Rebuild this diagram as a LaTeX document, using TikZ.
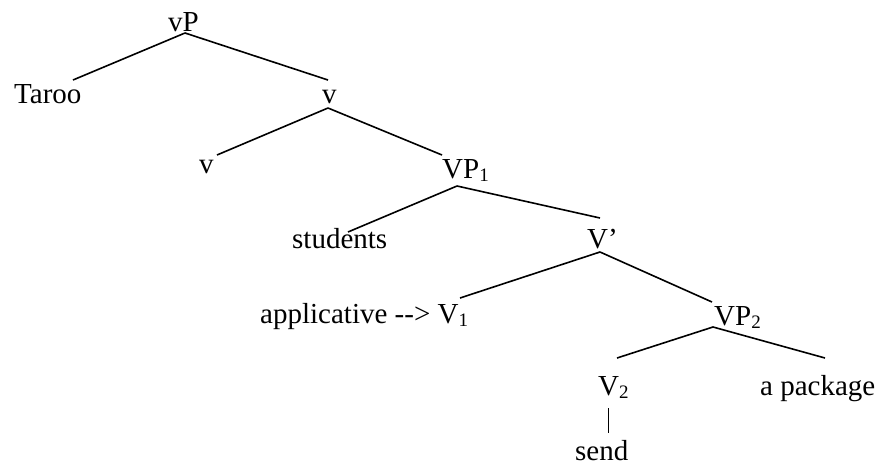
\documentclass[tikz,border=0pt]{standalone}
\usepackage{fontspec}
\setmainfont{Liberation Serif}
\newcommand\lowidx[1]{\raisebox{-0.13em}{\fontsize{19}{19}\selectfont #1}}
\begin{document}
\begin{tikzpicture}[x=1pt,y=-1pt,
  lbl/.style={anchor=base west, inner sep=0pt, font=\fontsize{29}{34}\selectfont},
  branch/.style={line width=1.6pt}]
\useasboundingbox (0,0) rectangle (879,466);

% labels, placed by their left end on the baseline
\node[lbl] (vP)    at (168,31)  {vP};
\node[lbl] (taroo) at (14,103)  {Taroo};
\node[lbl] (vbar)  at (322,103) {v};
\node[lbl] (vhead) at (199,173) {v};
\node[lbl] (VP1)   at (442,178) {VP\lowidx{1}};
\node[lbl] (stud)  at (292,248) {students};
\node[lbl] (Vbar)  at (587,248) {V’};
\node[lbl] (appl)  at (260,323) {applicative -{}-> V\lowidx{1}};
\node[lbl] (VP2)   at (714,325) {VP\lowidx{2}};
\node[lbl] (V2)    at (598,395) {V\lowidx{2}};
\node[lbl] (pkg)   at (760,395) {a package};
\node[lbl] (send)  at (575,460) {send};

% branches
\draw[branch] ([shift={(17,2)}]vP.base west)    -- ([shift={(59,-23)}]taroo.base west);
\draw[branch] ([shift={(17,2)}]vP.base west)    -- ([shift={(6,-23)}]vbar.base west);
\draw[branch] ([shift={(6,5)}]vbar.base west)   -- ([shift={(18,-18)}]vhead.base west);
\draw[branch] ([shift={(6,5)}]vbar.base west)   -- ([shift={(0,-23)}]VP1.base west);
\draw[branch] ([shift={(15,8)}]VP1.base west)   -- ([shift={(56,-16)}]stud.base west);
\draw[branch] ([shift={(15,8)}]VP1.base west)   -- ([shift={(13,-30)}]Vbar.base west);
\draw[branch] ([shift={(13,4)}]Vbar.base west)  -- ([shift={(200,-25)}]appl.base west);
\draw[branch] ([shift={(13,4)}]Vbar.base west)  -- ([shift={(-2,-23)}]VP2.base west);
\draw[branch] ([shift={(-1,2)}]VP2.base west)   -- ([shift={(19,-37)}]V2.base west);
\draw[branch] ([shift={(-1,2)}]VP2.base west)   -- ([shift={(65,-37)}]pkg.base west);
% the unary link from V2 down to its word
\draw[line width=0.9pt] ([shift={(10,13)}]V2.base west) -- ([shift={(33,-27)}]send.base west);
\end{tikzpicture}
\end{document}
